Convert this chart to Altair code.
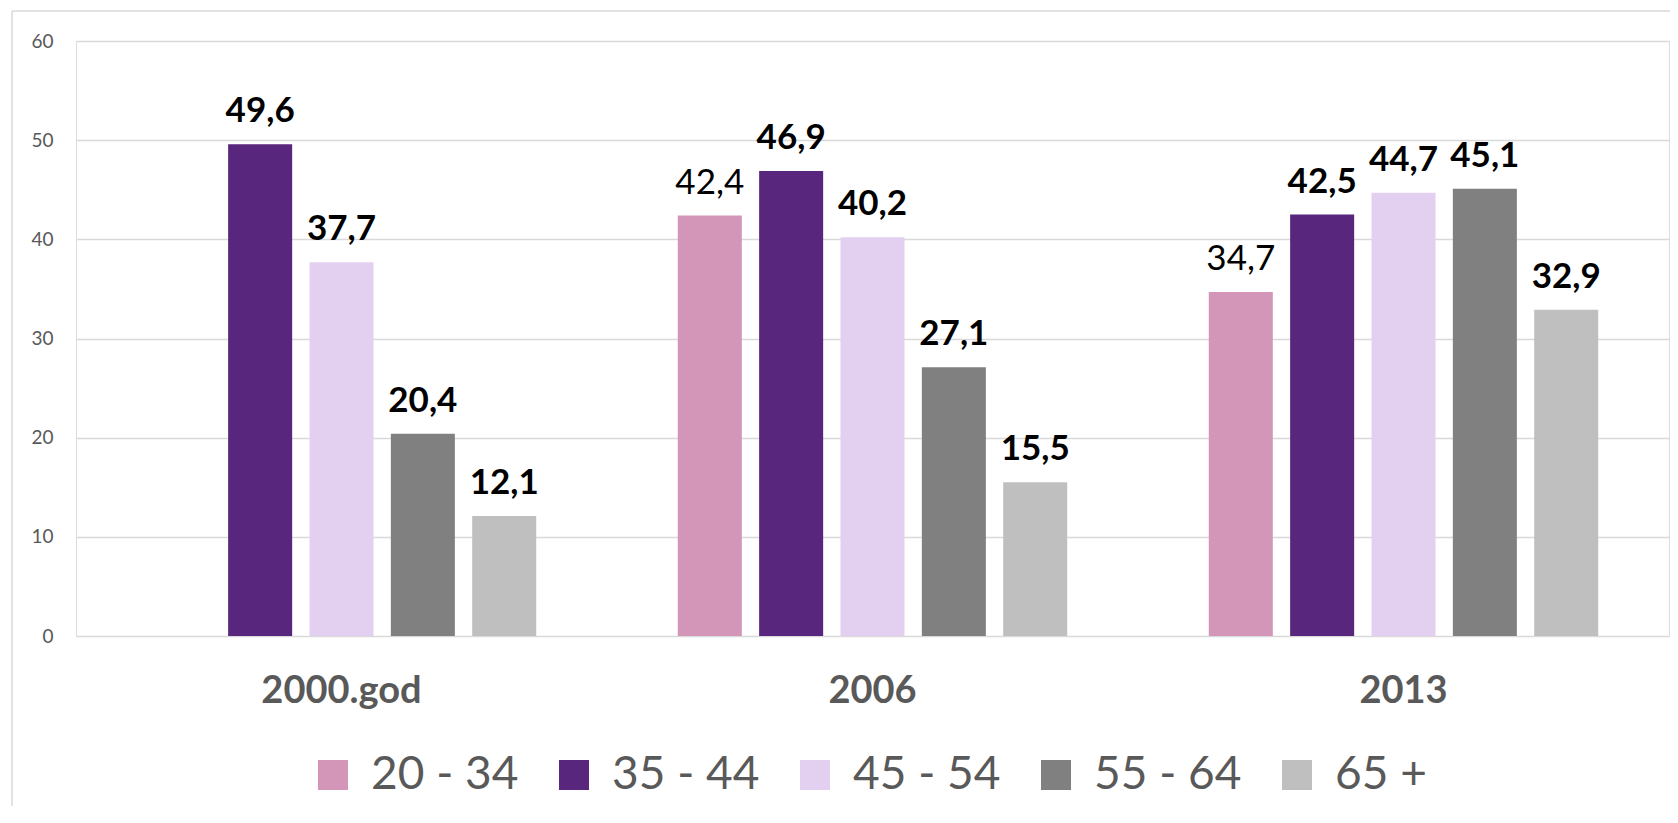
import altair as alt
import pandas as pd

years = ["2000.god", "2006", "2013"]
groups = ["20 - 34", "35 - 44", "45 - 54", "55 - 64", "65 +"]
colors = ["#D396B8", "#58267D", "#E3D0F1", "#808080", "#BFBFBF"]

v_20_34 = [None, 42.4, 34.7]
v_35_44 = [49.6, 46.9, 42.5]
v_45_54 = [37.7, 40.2, 44.7]
v_55_64 = [20.4, 27.1, 45.1]
v_65 = [12.1, 15.5, 32.9]

series = [v_20_34, v_35_44, v_45_54, v_55_64, v_65]
rows = []
for g, vals in zip(groups, series):
    for y, v in zip(years, vals):
        if v is not None:
            rows.append({"year": y, "age": g, "value": v})
df = pd.DataFrame(rows)

FONT = "Lato"
W, H = 1593, 595

base = alt.Chart(df).encode(
    x=alt.X("year:N", sort=years,
            scale=alt.Scale(paddingInner=0, paddingOuter=0),
            axis=alt.Axis(title=None, labelAngle=0, domain=False, ticks=False,
                          labelFont=FONT, labelFontSize=38, labelFontWeight="bold",
                          labelColor="#595959", labelPadding=36)),
    xOffset=alt.XOffset("age:N", sort=groups,
                        scale=alt.Scale(domain=groups, paddingInner=0.213, paddingOuter=0.87)),
)

bars = base.mark_bar().encode(
    y=alt.Y("value:Q", scale=alt.Scale(domain=[0, 60]),
            axis=alt.Axis(title=None, values=[0, 10, 20, 30, 40, 50, 60],
                          domain=False, ticks=False, grid=True,
                          gridColor="#D9D9D9", gridWidth=1.5,
                          labelFont=FONT, labelFontSize=19, labelColor="#595959",
                          labelPadding=23)),
    color=alt.Color("age:N", sort=groups,
                    scale=alt.Scale(domain=groups, range=colors),
                    legend=alt.Legend(title=None, orient="none", direction="horizontal",
                                      legendX=234, legendY=711,
                                      symbolType="square", symbolSize=900,
                                      symbolStrokeWidth=0, symbolOpacity=1,
                                      labelFont=FONT, labelFontSize=46,
                                      labelColor="#595959", labelOffset=15,
                                      columnPadding=32, padding=0)),
)

label_expr = "replace(format(datum.value, '.1f'), '.', ',')"

labels_normal = base.transform_filter(
    alt.datum.age == "20 - 34"
).transform_calculate(lab=label_expr).mark_text(
    font=FONT, fontSize=35, fontWeight="normal", color="#000000",
    baseline="alphabetic", dy=-22
).encode(y="value:Q", text="lab:N")

labels_bold = base.transform_filter(
    alt.datum.age != "20 - 34"
).transform_calculate(lab=label_expr).mark_text(
    font=FONT, fontSize=35, fontWeight="bold", color="#000000",
    baseline="alphabetic", dy=-22
).encode(y="value:Q", text="lab:N")

border_left = alt.Chart(pd.DataFrame({"a": [0]})).mark_rule(
    color="#D9D9D9", strokeWidth=1.5
).encode(x=alt.value(-64), y=alt.value(-30), y2=alt.value(H + 200))

border_top = alt.Chart(pd.DataFrame({"a": [0]})).mark_rule(
    color="#D9D9D9", strokeWidth=1.5
).encode(y=alt.value(-30), x=alt.value(-64), x2=alt.value(W + 20))

chart = alt.layer(bars, labels_normal, labels_bold, border_left, border_top).properties(
    width=W, height=H,
    autosize=alt.AutoSizeParams(type="none"),
    padding={"left": 68, "top": 33, "right": 1, "bottom": 170},
).configure_view(stroke=None).configure(background="white")

chart.save("out.html", embed_options={"renderer": "svg", "actions": False})
